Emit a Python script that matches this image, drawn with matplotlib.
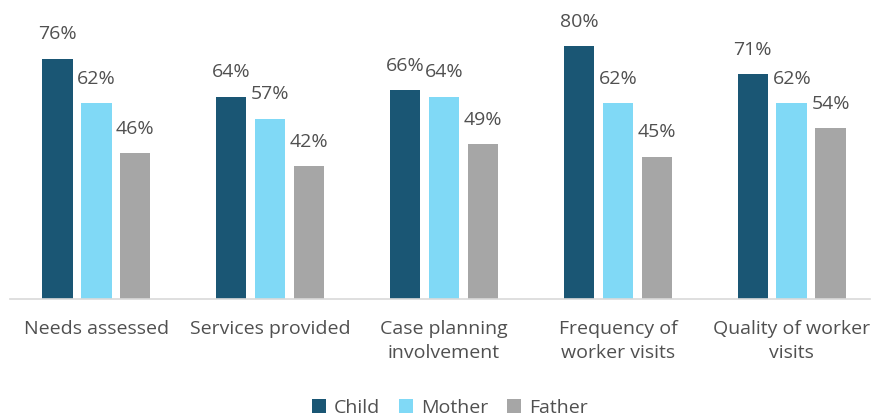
import numpy as np
import matplotlib.pyplot as plt

# categories and values (percent)
categories = ['Needs assessed', 'Services provided', 'Case planning\ninvolvement',
              'Frequency of\nworker visits', 'Quality of worker\nvisits']
child = [76, 64, 66, 80, 71]
mother = [62, 57, 64, 62, 62]
father = [46, 42, 49, 45, 54]

series = [('Child', child, '#1A5674'),
          ('Mother', mother, '#80D9F6'),
          ('Father', father, '#A6A6A6')]

plt.rcParams['font.family'] = ['Open Sans', 'DejaVu Sans']
text_color = '#505050'

fig = plt.figure(figsize=(8.75, 4.18), dpi=100)
ax = fig.add_axes([10 / 875, 1 - 299 / 418, 860 / 875, 299 / 418])

x = np.arange(len(categories))
width = 0.176
step = 0.224

for i, (name, vals, color) in enumerate(series):
    pos = x + (i - 1) * step
    bars = ax.bar(pos, vals, width, color=color, label=name)
    for b, v in zip(bars, vals):
        ax.annotate(f'{v}%', (b.get_x() + b.get_width() / 2, v),
                    xytext=(0, 11), textcoords='offset points',
                    ha='center', va='bottom', fontsize=14, color=text_color)

ax.set_xlim(-0.496, 4.45)
ax.set_ylim(0, 94.5)
ax.set_xticks(x)
ax.set_xticklabels(categories, fontsize=14, color=text_color, linespacing=1.45)
ax.tick_params(axis='x', length=0, pad=15)
ax.set_yticks([])
for s in ['top', 'right', 'left']:
    ax.spines[s].set_visible(False)
ax.spines['bottom'].set_color('#D9D9D9')
ax.spines['bottom'].set_linewidth(1.2)

leg = fig.legend(loc='center', bbox_to_anchor=(0.514, 10 / 418), ncol=3, frameon=False,
                 fontsize=14, handlelength=0.75, handleheight=0.75, handletextpad=0.4,
                 columnspacing=0.95)
for t in leg.get_texts():
    t.set_color(text_color)

fig.savefig('out.png', dpi=100)
